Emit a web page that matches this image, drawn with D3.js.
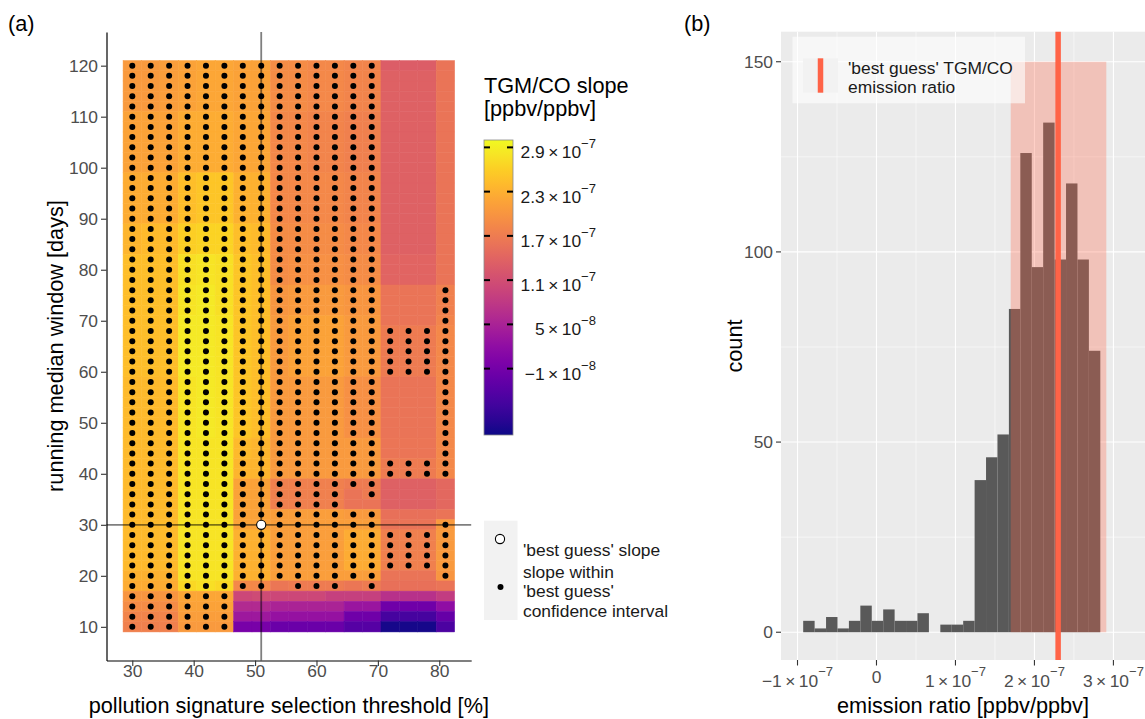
<!DOCTYPE html>
<html>
<head>
<meta charset="utf-8">
<script src="https://cdn.jsdelivr.net/npm/d3@7"></script>
<style>
  body { margin: 0; background: #fff; }
  svg { display: block; font-family: "Liberation Sans", Arial, sans-serif; }
</style>
</head>
<body>
<svg id="fig" width="1145" height="719"></svg>
<script>
// ---- panel (a): slope grid, values in units of 1e-8 ppbv/ppbv ----
var thresholds = [30, 33, 36, 39, 42, 45, 48, 51, 54, 57, 60, 63, 66, 69, 72, 75, 78, 81];
var windows = [120, 118, 116, 114, 112, 110, 108, 106, 104, 102, 100, 98, 96, 94, 92, 90, 88, 86, 84,
  82, 80, 78, 76, 74, 72, 70, 68, 66, 64, 62, 60, 58, 56, 54, 52, 50, 48, 46, 44, 42, 40,
  38, 36, 34, 32, 30, 28, 26, 24, 22, 20, 18, 16, 14, 12, 10];

var slopeRows = [
  [20.5,20.5,21, 21.5,22,22, 21.5,21.5, 19,19,18.5,18.5,18,18, 13,13,13, 16],
  [20.5,20.5,21, 21.5,22,22, 21.5,21.5, 19,19,18.5,18.5,18,18, 13.5,13.5,13.5, 16],
  [20.5,20.5,21, 21.5,22,22, 21.5,21.5, 19,19,18.5,18.5,18,18, 13.5,13.5,13.5, 16],
  [20.5,20.5,21, 21.5,22,22, 21.5,21.5, 19,19,18.5,18.5,18,18, 13.5,13.5,13.5, 16],
  [20.5,20.5,21, 21.5,22,22, 21.5,21.5, 19,19,18.5,18.5,18,18, 13.5,13.5,13.5, 16],
  [21.5,21.5,21.5, 22.5,22.5,22.5, 22,22, 18.5,18.5,18,18,17.5,17.5, 13.5,13.5,13.5, 16],
  [21.5,21.5,21.5, 22.5,22.5,22.5, 22,22, 18.5,18.5,18,18,17.5,17.5, 13.5,13.5,13.5, 16],
  [21.5,21.5,21.5, 22.5,22.5,22.5, 22,22, 18.5,18.5,18,18,17.5,17.5, 13.5,13.5,13.5, 16],
  [21.5,21.5,21.5, 22.5,22.5,22.5, 22,22, 18.5,18.5,18,18,17.5,17.5, 13.5,13.5,13.5, 16],
  [21.5,21.5,21.5, 22.5,22.5,22.5, 22,22, 18.5,18.5,18,18,17.5,17.5, 13.5,13.5,13.5, 16],
  [21.5,21.5,21.5, 22.5,22.5,22.5, 22,22, 18.5,18.5,18,18,17.5,17.5, 13.5,13.5,13.5, 16],
  [22.5,22.5,22.5, 24.5,25,25, 23,23, 18.5,18.5,18.5,18.5,18,18, 13.5,13.5,13.5, 16],
  [22.5,22.5,22.5, 24.5,25,25, 23,23, 18.5,18.5,18.5,18.5,18,18, 13.5,13.5,13.5, 16],
  [22.5,22.5,22.5, 24.5,25,25, 23,23, 18.5,18.5,18.5,18.5,18,18, 13.5,13.5,13.5, 16],
  [22.5,22.5,22.5, 24.5,25,25, 23,23, 18.5,18.5,18.5,18.5,18,18, 13.5,13.5,13.5, 16],
  [22.5,22.5,22.5, 24.5,25,25, 23,23, 18.5,18.5,18.5,18.5,18,18, 13.5,13.5,13.5, 16],
  [23.5,24,24, 26,26.5,26.5, 24.5,24, 19,19,19,19,18.5,18.5, 13.5,13.5,13.5, 16],
  [23.5,24,24, 26,26.5,26.5, 24.5,24, 19,19,19,19,18.5,18.5, 13.5,13.5,13.5, 16],
  [23.5,24,24, 26,26.5,26.5, 24.5,24, 19,19,19,19,18.5,18.5, 13.5,13.5,13.5, 16],
  [24.5,24.5,24.5, 27.5,28,27.5, 25,24.5, 19,19.5,19.5,19.5,19,19, 14,14,14, 16],
  [24.5,24.5,24.5, 27.5,28,27.5, 25,24.5, 19,19.5,19.5,19.5,19,19, 14,14,14, 16],
  [24.5,24.5,24.5, 27.5,28,27.5, 25,24.5, 19,19.5,19.5,19.5,19,19, 14,14,14, 16],
  [24.5,24.5,24.5, 28,28.5,27.5, 25,24.5, 20,20.5,20.5,20.5,20,20, 16,16,16, 17.5],
  [24.5,24.5,24.5, 28,28.5,27.5, 25,24.5, 20,20.5,20.5,20.5,20,20, 16,16,16, 17.5],
  [24.5,24.5,24.5, 28,28.5,27.5, 25,24.5, 20,20.5,20.5,20.5,20,20, 16,16,16, 17.5],
  [24.5,24.5,24.5, 28.5,28.5,28, 25,24.5, 20.5,21.5,21.5,21.5,20.5,20.5, 16,16,16, 18],
  [24.5,24.5,24.5, 28.5,28.5,28, 25,24.5, 20.5,21.5,21.5,21.5,20.5,20.5, 17,17,17, 18.5],
  [24.5,24.5,24.5, 28.5,28.5,28, 25,24.5, 20.5,21.5,21.5,21.5,20.5,20.5, 17,17,17, 18.5],
  [24.5,24.5,24.5, 28.5,28.5,28, 25,24.5, 20.5,21.5,21.5,21.5,20.5,20.5, 17,17,17, 18.5],
  [24.5,24.5,24.5, 28.5,28.5,28, 25,24.5, 20.5,21.5,21.5,21.5,20.5,20.5, 17,17,17, 18.5],
  [24.5,24.5,24.5, 28.5,28.5,28, 25,24.5, 20.5,21.5,21.5,21.5,20.5,20.5, 17,17,17, 18.5],
  [24,24,24, 28,28.5,28, 25,24.5, 20.5,20.5,20.5,20.5,19.5,19.5, 16,16,16, 18.5],
  [24,24,24, 28,28.5,28, 25,24.5, 20.5,20.5,20.5,20.5,19.5,19.5, 16,16,16, 18.5],
  [24,24,24, 28,28.5,28, 25,24.5, 20.5,20.5,20.5,20.5,19.5,19.5, 16,16,16, 18.5],
  [24,24,24, 28,28.5,28, 25,24.5, 20.5,20.5,20.5,20.5,19.5,19.5, 16,16,16, 18.5],
  [24,24,24, 28,28.5,28, 25,24.5, 20.5,20.5,20.5,20.5,19.5,19.5, 16,16,16, 18.5],
  [24,24,24, 28,28.5,28, 25,24.5, 20.5,20.5,20.5,20.5,19.5,19.5, 16,16,16, 18.5],
  [24,24,24, 28,28,28, 24,23.5, 20.5,20.5,20.5,20.5,20.5,20.5, 16.2,16.2,16.2, 18.5],
  [24,24,24, 28,28,28, 24,23.5, 20.5,20.5,20.5,20.5,20.5,20.5, 16.2,16.2,16.2, 18.5],
  [24,24,24, 28,28,28, 23.5,23.5, 20.5,20.5,20.5,20.5,20.5,20.5, 17,17,17, 18.5],
  [24,24,24, 28,28,28, 23.5,23.5, 20.5,20.5,20.5,20.5,20.5,20.5, 17,17,17, 18.5],
  [24,24,24, 28,28,28, 21.5,21.5, 17.5,17.5,17.5,17.5,17,17, 13.5,13.5,13.5, 14.5],
  [24,24,24, 28,28,28, 21.5,21.5, 17.5,17.5,17.5,17.5,16,17, 13.5,13.5,13.5, 14.5],
  [24,24,24, 28,28,28, 21.5,21.5, 17.5,17.5,17.5,17.5,16,16, 13.5,13.5,13.5, 14.5],
  [24,24,24, 28,28,28, 21.5,21.5, 21,21,21,21,20.5,20.5, 15.5,15.5,15.5, 16],
  [24,24,24, 28,28,28, 21.5,21.5, 21,21,21,21,21,21, 16,16,16, 20.5],
  [24,24,24, 28,28,28, 23,23, 21,21,21,21,22.5,22.5, 17.5,17.5,17.5, 20.5],
  [24,24,24, 28,28,28, 23,23, 21,21,21,21,22.5,22.5, 17.5,17.5,17.5, 20.5],
  [24,24,24, 28,28,28, 23,23, 21,21,21,21,22.5,22.5, 17.5,17.5,17.5, 20.5],
  [24,24,24, 28,28,28, 23,23, 21,21,21,21,22.5,22.5, 17.5,17.5,17.5, 20.5],
  [23,23,23, 28,28,28, 23,23, 21,21,21,21,21,21, 16,16,16, 20],
  [22.5,22.5,22.5, 27,27.5,27, 18.5,18.5, 16.3,17,17,17,16.3,17, 15.5,15.5,15.5, 16],
  [20,20,20, 22,22,22, 10,10.5, 10,10,10,9,9,9, 7,7,7, 8.5],
  [19,19,19, 21.5,21.5,21.5, 6,6, 5,5,5,5,3,3, -1.5,-1.5,-1.5, 2],
  [18,18,18, 21,21,21, 3.5,3.5, 2.5,2.5,2.5,2.5,-1.5,-1.5, -5.5,-5.5,-5.5, -2.5],
  [17.5,17.5,17.5, 20.5,20.5,20.5, -0.5,-0.5, -2,-2,-2,-2,-4,-4, -9.5,-9.5,-9.5, -5]
];

// 1 = slope within the 'best guess' confidence interval
var dotRows = [
  "111111111111110000", "111111111111110000", "111111111111110000", "111111111111110000",
  "111111111111110000", "111111111111110000", "111111111111110000", "111111111111110000",
  "111111111111110000", "111111111111110000", "111111111111110000", "111111111111110000",
  "111111111111110000", "111111111111110000", "111111111111110000", "111111111111110000",
  "111111111111110000", "111111111111110000", "111111111111110000", "111111111111110000",
  "111111111111110000", "111111111111110000",
  "111111111111110001", "111111111111110001", "111111111111110001", "111111111111110001",
  "111111111111111111", "111111111111111111", "111111111111111111", "111111111111111111",
  "111111111111111111",
  "111111111111110001", "111111111111110001", "111111111111110001", "111111111111110001",
  "111111111111110001", "111111111111110001", "111111111111110001", "111111111111110001",
  "111111111111111111", "111111111111111111",
  "111111111111110000", "111111111111010000", "111111111111000000", "111111111111110000",
  "111111101111110001",
  "111111111111111111", "111111111111111111", "111111111111111111", "111111111111111111",
  "111111111111110001", "111111110111010000",
  "111111000000000000", "111111000000000000", "111111000000000000", "111111000000000000"
];

var bestThreshold = 51, bestWindow = 30;
var xTicksA = [30, 40, 50, 60, 70, 80];
var yTicksA = [10, 20, 30, 40, 50, 60, 70, 80, 90, 100, 110, 120];
var colorLimits = [-1.0e-7, 3.0e-7];
var colorTicks = [2.9e-7, 2.3e-7, 1.7e-7, 1.1e-7, 5e-8, -1e-8];

// ---- panel (b): histogram of emission ratios ----
var binStart = -0.928e-7, binWidth = 0.1447e-7;
var binCounts = [3, 1, 4, 1, 3, 7, 3, 6, 3, 3, 5, 0, 2, 2, 3, 40, 46, 52, 85, 126, 96, 134, 98, 118, 98, 74];
var bestRatio = 2.30e-7;
var ciRange = [1.70e-7, 2.91e-7];
var ciTop = 150;
var xTicksB = [-1e-7, 0, 1e-7, 2e-7, 3e-7];
var xMinorB = [-0.5e-7, 0.5e-7, 1.5e-7, 2.5e-7];
var yTicksB = [0, 50, 100, 150];
var yMinorB = [25, 75, 125];

var svg = d3.select("#fig");
var big = 21.7, small = 17.4;
var tickGrey = "#4d4d4d";

function sciParts(v) {
  if (v === 0) return null;
  var e = Math.floor(Math.log10(Math.abs(v)) + 1e-9);
  var m = +(v / Math.pow(10, e)).toFixed(1);
  return { m: (m < 0 ? "\u2212" : "") + Math.abs(m), e: (e < 0 ? "\u2212" : "") + Math.abs(e) };
}
function sciText(g, v, x, y, anchor, fill) {
  var t = g.append("text").attr("x", x).attr("y", y).attr("text-anchor", anchor)
    .attr("font-size", small).attr("fill", fill);
  var p = sciParts(v);
  if (!p) { t.text("0"); return t; }
  t.append("tspan").text(p.m + "\u2009\u00d7\u200910");
  t.append("tspan").attr("font-size", small * 0.75).attr("dy", -small * 0.58).text(p.e);
  return t;
}

// ================= panel (a) =================
var ax = d3.scaleLinear().domain([25.8, 85.2]).range([106.5, 471.2]);
var ay = d3.scaleLinear().domain([3.4, 126.6]).range([660.5, 32]);
var color = d3.scaleSequential(d3.interpolatePlasma).domain(colorLimits);

var cells = [];
windows.forEach(function(w, i) {
  thresholds.forEach(function(t, j) {
    cells.push({ t: t, w: w, v: slopeRows[i][j] * 1e-8, dot: dotRows[i][j] === "1" });
  });
});

var gA = svg.append("g");
gA.selectAll("rect.tile").data(cells).join("rect").attr("class", "tile")
  .attr("x", d => ax(d.t - 1.5)).attr("y", d => ay(d.w + 1))
  .attr("width", d => ax(d.t + 1.5) - ax(d.t - 1.5))
  .attr("height", d => ay(d.w - 1) - ay(d.w + 1))
  .attr("fill", d => color(d.v)).attr("stroke", d => color(d.v)).attr("stroke-width", 0.5);

gA.selectAll("circle.dot").data(cells.filter(d => d.dot)).join("circle").attr("class", "dot")
  .attr("cx", d => ax(d.t)).attr("cy", d => ay(d.w)).attr("r", 3).attr("fill", "#000");

gA.append("line").attr("x1", ax(bestThreshold)).attr("x2", ax(bestThreshold))
  .attr("y1", ay.range()[1]).attr("y2", ay.range()[0])
  .attr("stroke", "#000").attr("stroke-opacity", 0.5).attr("stroke-width", 1.8);
gA.append("line").attr("x1", ax.range()[0]).attr("x2", ax.range()[1])
  .attr("y1", ay(bestWindow)).attr("y2", ay(bestWindow))
  .attr("stroke", "#000").attr("stroke-opacity", 0.5).attr("stroke-width", 1.8);
gA.append("circle").attr("cx", ax(bestThreshold)).attr("cy", ay(bestWindow)).attr("r", 4.6)
  .attr("fill", "#fff").attr("stroke", "#000").attr("stroke-width", 1.1);

var axA = svg.append("g").attr("transform", "translate(0," + ay.range()[0] + ")")
  .call(d3.axisBottom(ax).tickValues(xTicksA).tickSize(5.5).tickSizeOuter(0));
var ayA = svg.append("g").attr("transform", "translate(" + ax.range()[0] + ",0)")
  .call(d3.axisLeft(ay).tickValues(yTicksA).tickSize(5.5).tickSizeOuter(0).tickPadding(3));
[axA, ayA].forEach(function(g) {
  g.select(".domain").attr("stroke", "#000").attr("stroke-width", 1.2);
  g.selectAll(".tick line").attr("stroke", "#333").attr("stroke-width", 1.1);
  g.selectAll(".tick text").attr("font-size", small).attr("fill", tickGrey)
    .attr("font-family", "Liberation Sans, Arial, sans-serif");
});
axA.selectAll(".tick text").attr("y", 16.5).attr("dy", 0);

svg.append("text").attr("x", (ax.range()[0] + ax.range()[1]) / 2).attr("y", 713)
  .attr("text-anchor", "middle").attr("font-size", big).text("pollution signature selection threshold [%]");
svg.append("text").attr("transform", "translate(63,346) rotate(-90)")
  .attr("text-anchor", "middle").attr("font-size", big).text("running median window [days]");

// colour bar legend
var legA = svg.append("g");
legA.append("text").attr("x", 484).attr("y", 93).attr("font-size", big).text("TGM/CO slope");
legA.append("text").attr("x", 484).attr("y", 116).attr("font-size", big).text("[ppbv/ppbv]");

var cbX = 484, cbW = 29;
var cy = d3.scaleLinear().domain(colorLimits).range([435, 140]);
var grad = svg.append("defs").append("linearGradient").attr("id", "plasma")
  .attr("x1", 0).attr("y1", 1).attr("x2", 0).attr("y2", 0);
d3.range(0, 1.0001, 0.05).forEach(function(s) {
  grad.append("stop").attr("offset", s).attr("stop-color", d3.interpolatePlasma(s));
});
legA.append("rect").attr("x", cbX).attr("y", cy.range()[1]).attr("width", cbW)
  .attr("height", cy.range()[0] - cy.range()[1]).attr("fill", "url(#plasma)")
  .attr("stroke", "#8a8a8a").attr("stroke-width", 0.8);
colorTicks.forEach(function(v) {
  var y = cy(v);
  legA.append("line").attr("x1", cbX).attr("x2", cbX + 6).attr("y1", y).attr("y2", y)
    .attr("stroke", "#000").attr("stroke-width", 2);
  legA.append("line").attr("x1", cbX + cbW - 6).attr("x2", cbX + cbW).attr("y1", y).attr("y2", y)
    .attr("stroke", "#000").attr("stroke-width", 2);
  sciText(legA, v, 596, y + 11, "end", "#1a1a1a");
});

// point legend
legA.append("rect").attr("x", 484).attr("y", 520.7).attr("width", 33.5).attr("height", 99.3).attr("fill", "#f2f2f2");
legA.append("circle").attr("cx", 500).attr("cy", 539).attr("r", 4.6)
  .attr("fill", "#fff").attr("stroke", "#000").attr("stroke-width", 1.1);
legA.append("circle").attr("cx", 500.5).attr("cy", 587).attr("r", 3).attr("fill", "#000");
[["'best guess' slope", 556], ["slope within", 577.5], ["'best guess'", 597], ["confidence interval", 616.5]]
  .forEach(function(l) {
    legA.append("text").attr("x", 523).attr("y", l[1]).attr("font-size", small).attr("fill", "#1a1a1a").text(l[0]);
  });

svg.append("text").attr("x", 8).attr("y", 31).attr("font-size", big).text("(a)");

// ================= panel (b) =================
var bx = d3.scaleLinear().domain([-1.209e-7, 3.40e-7]).range([781, 1145]);
var by = d3.scaleLinear().domain([-7.3, 157.9]).range([660, 31.7]);
var gB = svg.append("g");

gB.append("rect").attr("x", bx.range()[0]).attr("y", by.range()[1])
  .attr("width", bx.range()[1] - bx.range()[0]).attr("height", by.range()[0] - by.range()[1]).attr("fill", "#ebebeb");
xMinorB.forEach(v => gB.append("line").attr("x1", bx(v)).attr("x2", bx(v)).attr("y1", by.range()[1]).attr("y2", by.range()[0])
  .attr("stroke", "#fff").attr("stroke-width", 0.55));
yMinorB.forEach(v => gB.append("line").attr("y1", by(v)).attr("y2", by(v)).attr("x1", bx.range()[0]).attr("x2", bx.range()[1])
  .attr("stroke", "#fff").attr("stroke-width", 0.55));
xTicksB.forEach(v => gB.append("line").attr("x1", bx(v)).attr("x2", bx(v)).attr("y1", by.range()[1]).attr("y2", by.range()[0])
  .attr("stroke", "#fff").attr("stroke-width", 1.1));
yTicksB.forEach(v => gB.append("line").attr("y1", by(v)).attr("y2", by(v)).attr("x1", bx.range()[0]).attr("x2", bx.range()[1])
  .attr("stroke", "#fff").attr("stroke-width", 1.1));

var bins = binCounts.map((c, i) => ({ x0: binStart + i * binWidth, x1: binStart + (i + 1) * binWidth, n: c }));
gB.selectAll("rect.bar").data(bins.filter(b => b.n > 0)).join("rect").attr("class", "bar")
  .attr("x", d => bx(d.x0)).attr("width", d => bx(d.x1) - bx(d.x0))
  .attr("y", d => by(d.n)).attr("height", d => by(0) - by(d.n)).attr("fill", "#595959");

gB.append("rect").attr("x", bx(ciRange[0])).attr("width", bx(ciRange[1]) - bx(ciRange[0]))
  .attr("y", by(ciTop)).attr("height", by(0) - by(ciTop)).attr("fill", "tomato").attr("fill-opacity", 0.3);
gB.append("line").attr("x1", bx(bestRatio)).attr("x2", bx(bestRatio))
  .attr("y1", by.range()[1]).attr("y2", by.range()[0]).attr("stroke", "tomato").attr("stroke-width", 5.5);

// axes of (b)
yTicksB.forEach(function(v) {
  gB.append("line").attr("x1", 776).attr("x2", 781).attr("y1", by(v)).attr("y2", by(v)).attr("stroke", "#333").attr("stroke-width", 1.1);
  gB.append("text").attr("x", 773).attr("y", by(v)).attr("dy", "0.35em").attr("text-anchor", "end")
    .attr("font-size", small).attr("fill", tickGrey).text(v);
});
xTicksB.forEach(function(v) {
  gB.append("line").attr("x1", bx(v)).attr("x2", bx(v)).attr("y1", 660).attr("y2", 665.5).attr("stroke", "#333").attr("stroke-width", 1.1);
  sciText(gB, v, bx(v), v === 0 ? 683 : 686.5, "middle", tickGrey);
});
svg.append("text").attr("x", (bx.range()[0] + bx.range()[1]) / 2).attr("y", 713)
  .attr("text-anchor", "middle").attr("font-size", big).text("emission ratio [ppbv/ppbv]");
svg.append("text").attr("transform", "translate(742,346) rotate(-90)")
  .attr("text-anchor", "middle").attr("font-size", big).text("count");

// legend of (b)
var legB = svg.append("g");
legB.append("rect").attr("x", 792.5).attr("y", 36.7).attr("width", 232.5).attr("height", 66.6)
  .attr("fill", "#fff").attr("fill-opacity", 0.6);
legB.append("rect").attr("x", 803).attr("y", 58.3).attr("width", 35).attr("height", 34.4).attr("fill", "#f2f2f2");
legB.append("line").attr("x1", 820.5).attr("x2", 820.5).attr("y1", 58.3).attr("y2", 92.7)
  .attr("stroke", "tomato").attr("stroke-width", 5.5);
legB.append("text").attr("x", 848).attr("y", 73.5).attr("font-size", small).attr("fill", "#1a1a1a").text("'best guess' TGM/CO");
legB.append("text").attr("x", 848).attr("y", 92.5).attr("font-size", small).attr("fill", "#1a1a1a").text("emission ratio");

svg.append("text").attr("x", 684).attr("y", 31).attr("font-size", big).text("(b)");
</script>
</body>
</html>
